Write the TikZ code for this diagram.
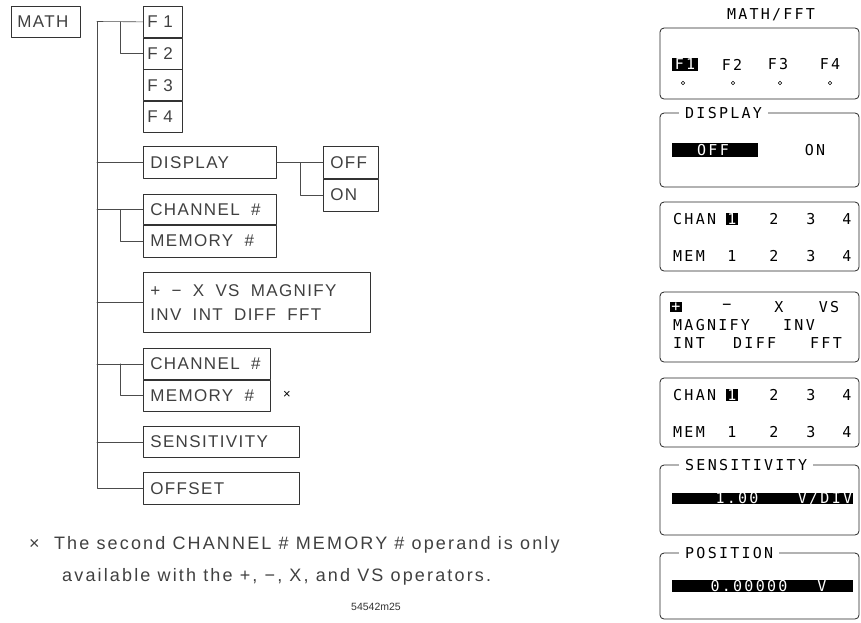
\documentclass[tikz,border=0pt]{standalone}
\usepackage{fontspec}
\setmainfont{Liberation Sans}
\newfontfamily\plotfont[LetterSpace=8]{Liberation Sans}
\newfontfamily\notefont[LetterSpace=12]{Liberation Sans}
\newfontfamily\lcdfont[LetterSpace=15]{DejaVu Sans Mono}
\usetikzlibrary{positioning}
\tikzset{
	menubox/.style={draw=black!80, line width=0.7pt, anchor=north west, inner xsep=7pt, inner ysep=0pt, minimum height=31pt, text width=#1, align=left, font=\plotfont\fontsize{17}{22}\selectfont, text=black!75},
	wire/.style={draw=black!70, line width=0.6pt},
	panel/.style={draw=black!85, line width=0.8pt, rounded corners=4pt},
	lcd/.style={font=\lcdfont\fontsize{15}{18}\selectfont, inner sep=0pt},
	hilite/.style={lcd, fill=black, text=white, inner sep=1pt},
	lcdbar/.style={fill=black, inner sep=0pt},
	paneltitle/.style={lcd, fill=white, inner xsep=6pt, anchor=west},
	notetext/.style={font=\notefont\fontsize{18}{22}\selectfont, text=black!75, inner sep=0pt, anchor=west}
}
\begin{document}
\begin{tikzpicture}[x=1pt, y=-1pt, >=stealth, line join=round, line cap=round]
	\def\xtrunk{97} \def\dx{23}
	\useasboundingbox (0,0) rectangle (861,622);
	\node[menubox=57pt, inner xsep=6pt] (math) at (11,6) {MATH};
	\node[menubox=31pt, inner xsep=4pt] (f1) at (143,6) {F~1};
	\node[menubox=31pt, inner xsep=4pt, below=0pt of f1] (f2) {F~2};
	\node[menubox=31pt, inner xsep=4pt, below=0pt of f2] (f3) {F~3};
	\node[menubox=31pt, inner xsep=4pt, below=0pt of f3] (f4) {F~4};
	\node[menubox=119pt, minimum height=32pt] (disp) at (143,146) {DISPLAY};
	\node[menubox=41pt, minimum height=32pt] (off) at (323,146) {OFF};
	\node[menubox=41pt, minimum height=32pt, below=0pt of off] (on) {ON};
	\node[menubox=119pt, minimum height=30pt] (ch1) at (143,194) {CHANNEL\ \ \#};
	\node[menubox=119pt, minimum height=32pt, below=0pt of ch1] (mem1) {MEMORY\ \ \#};
	\node[menubox=213pt, minimum height=60pt, inner ysep=0pt] (ops) at (143,272) {\raisebox{3pt}{+\ \ −\ \ X\ \ VS\ \ MAGNIFY}\\[-1pt]INV\ \ INT\ \ DIFF\ \ FFT};
	\node[menubox=113pt] (ch2) at (143,348) {CHANNEL\ \ \#};
	\node[menubox=113pt, below=0pt of ch2] (mem2) {MEMORY\ \ \#};
	\node[menubox=142pt] (sens) at (143,426) {SENSITIVITY};
	\node[menubox=142pt, minimum height=32pt] (offset) at (143,472) {OFFSET};
	\node[font=\fontsize{13}{13}\selectfont, inner sep=0pt] (mark) at (287,394.5) {×};
	\coordinate (top) at (\xtrunk,21.5);
	\draw[wire] (top) |- (offset.west);
	\draw[wire] (top) -- (f1.west);
	\foreach \n in {disp,ch1,ops,ch2,sens}
		\draw[wire] (top |- \n.west) -- (\n.west);
	\draw[wire] ([xshift=-\dx]f1.west) |- (f2.west);
	\draw[wire] ([xshift=-\dx]ch1.west) |- (mem1.west);
	\draw[wire] ([xshift=-\dx]ch2.west) |- (mem2.west);
	\draw[wire] (disp.east) -- (off.west);
	\draw[wire] ([xshift=-\dx]off.west) |- (on.west);
	\node[notetext] (note1) at (29,545) {× \ The second CHANNEL \# MEMORY \# operand is only};
	\node[notetext] (note2) at (62,577) {available with the +, −, X, and VS operators.};
	\node[font=\fontsize{10.5}{11}\selectfont, text=black!80, inner sep=0pt] (fig) at (376,607) {54542m25};
	\node[lcd] (title) at (771,15) {MATH/FFT};
	\draw[panel] (660,28) rectangle (859,99);
	\node[hilite, minimum width=26pt] (fsel) at (685,64.5) {F1};
	\foreach \lbl/\x in {F2/732,F3/778,F4/830}
		\node[lcd] (\lbl) at (\x,64.5) {\lbl};
	\foreach \x in {683,733,780,830}
		\draw[line width=0.6pt] (\x,83) circle (1.8pt);
	\draw[panel] (660,113) rectangle (859,187);
	\node[paneltitle] (dtitle) at (679,113) {DISPLAY};
	\node[lcdbar, minimum width=86pt, minimum height=14pt] (doffbar) at (715,150) {};
	\node[lcd, text=white] (doff) at (713,150) {OFF};
	\node[lcd] (don) at (815,150) {ON};
	\foreach \t [count=\k] in {202,378} {
		\draw[panel] (660,\t) rectangle (859,\t+69);
		\node[lcd, anchor=west] (chan\k) at (673,\t+17) {CHAN};
		\node[hilite] (csel\k) at (732,\t+17) {1};
		\foreach \n/\x in {2/774,3/811,4/847}
			\node[lcd] (c\k\n) at (\x,\t+17) {\n};
		\node[lcd, anchor=west] (mem\k) at (673,\t+54) {MEM};
		\foreach \n/\x in {1/732,2/774,3/811,4/847}
			\node[lcd] (m\k\n) at (\x,\t+54) {\n};
	}
	\draw[panel] (660,292) rectangle (859,362);
	\node[hilite] (opadd) at (676,307) {+};
	\node[lcd] (opsub) at (727,307) {−};
	\node[lcd] (opmul) at (779,307) {X};
	\node[lcd] (opvs) at (829,307) {VS};
	\node[lcd, anchor=west] (opmag) at (673,325) {MAGNIFY};
	\node[lcd, anchor=west] (opinv) at (783,325) {INV};
	\node[lcd, anchor=west] (opint) at (673,343) {INT};
	\node[lcd, anchor=west] (opdiff) at (733,343) {DIFF};
	\node[lcd, anchor=west] (opfft) at (810,343) {FFT};
	\draw[panel] (660,465) rectangle (859,535);
	\node[paneltitle] (stitle) at (679,465) {SENSITIVITY};
	\node[lcdbar, minimum width=181pt, minimum height=11pt] (sbar) at (762.5,498.5) {};
	\node[lcd, text=white] (sval) at (737,498.5) {1.00};
	\node[lcd, text=white] (sunit) at (825,498.5) {V/DIV};
	\draw[panel] (660,553) rectangle (859,619);
	\node[paneltitle] (ptitle) at (679,553) {POSITION};
	\node[lcdbar, minimum width=181pt, minimum height=12pt] (pbar) at (762.5,586) {};
	\node[lcd, text=white] (pval) at (749,586) {0.00000};
	\node[lcd, text=white] (punit) at (822,586) {V};
\end{tikzpicture}
\end{document}
